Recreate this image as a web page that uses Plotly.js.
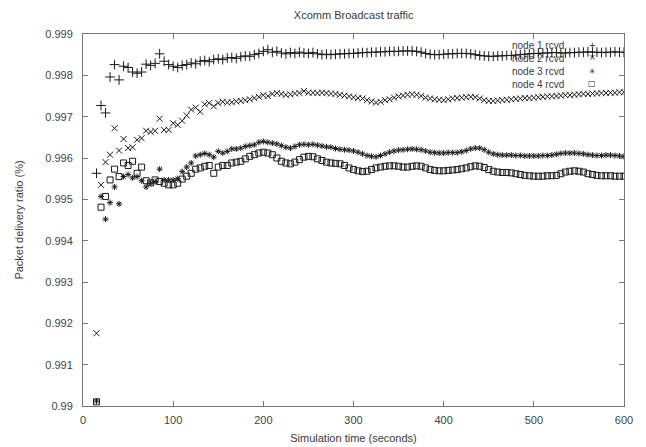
<!DOCTYPE html>
<html>
<head>
<meta charset="utf-8">
<script src="https://cdn.plot.ly/plotly-3.0.1.min.js"></script>
<style>html,body{margin:0;padding:0;background:#fff;}#chart{width:646px;height:447px;}</style>
</head>
<body>
<div id="chart"></div>
<script>
const times = [15,20,25,30,35,40,45,50,55,60,65,70,75,80,85,90,95,100,105,110,115,120,125,130,135,140,145,150,155,160,165,170,175,180,185,190,195,200,205,210,215,220,225,230,235,240,245,250,255,260,265,270,275,280,285,290,295,300,305,310,315,320,325,330,335,340,345,350,355,360,365,370,375,380,385,390,395,400,405,410,415,420,425,430,435,440,445,450,455,460,465,470,475,480,485,490,495,500,505,510,515,520,525,530,535,540,545,550,555,560,565,570,575,580,585,590,595,600];

const node1 = [0.99563,0.99727,0.99709,0.99796,0.99826,0.99789,0.99822,0.99819,0.99808,0.99805,0.99808,0.99827,0.99824,0.99829,0.99852,0.99834,0.99826,0.99822,0.99819,0.99824,0.99826,0.99830,0.99828,0.99834,0.99836,0.99833,0.99838,0.99840,0.99838,0.99842,0.99843,0.99841,0.99845,0.99847,0.99846,0.99850,0.99853,0.99858,0.99862,0.99856,0.99858,0.99854,0.99852,0.99855,0.99853,0.99856,0.99854,0.99853,0.99855,0.99852,0.99850,0.99851,0.99850,0.99851,0.99852,0.99852,0.99853,0.99853,0.99854,0.99855,0.99855,0.99856,0.99856,0.99857,0.99857,0.99858,0.99858,0.99858,0.99859,0.99859,0.99859,0.99858,0.99856,0.99853,0.99851,0.99850,0.99850,0.99851,0.99852,0.99852,0.99853,0.99853,0.99853,0.99852,0.99850,0.99848,0.99847,0.99846,0.99846,0.99847,0.99847,0.99848,0.99848,0.99849,0.99850,0.99851,0.99852,0.99853,0.99853,0.99854,0.99854,0.99855,0.99855,0.99854,0.99854,0.99855,0.99855,0.99856,0.99856,0.99857,0.99856,0.99856,0.99855,0.99856,0.99856,0.99857,0.99856,0.99856];

const node2 = [0.99176,0.99535,0.99590,0.99608,0.99672,0.99618,0.99646,0.99624,0.99626,0.99644,0.99648,0.99666,0.99663,0.99666,0.99695,0.99668,0.99668,0.99684,0.99680,0.99690,0.99703,0.99717,0.99722,0.99712,0.99730,0.99733,0.99725,0.99733,0.99736,0.99734,0.99735,0.99737,0.99738,0.99740,0.99742,0.99745,0.99748,0.99752,0.99750,0.99755,0.99757,0.99755,0.99753,0.99754,0.99756,0.99757,0.99762,0.99758,0.99758,0.99757,0.99758,0.99757,0.99756,0.99755,0.99753,0.99751,0.99749,0.99747,0.99745,0.99744,0.99740,0.99737,0.99734,0.99736,0.99740,0.99742,0.99746,0.99749,0.99751,0.99753,0.99754,0.99753,0.99750,0.99746,0.99744,0.99742,0.99741,0.99740,0.99742,0.99744,0.99745,0.99746,0.99747,0.99748,0.99747,0.99744,0.99740,0.99738,0.99738,0.99739,0.99740,0.99741,0.99742,0.99743,0.99744,0.99745,0.99745,0.99746,0.99747,0.99748,0.99749,0.99749,0.99750,0.99751,0.99752,0.99752,0.99753,0.99754,0.99755,0.99755,0.99756,0.99756,0.99757,0.99757,0.99758,0.99758,0.99759,0.99759];

const node3 = [0.99012,0.99507,0.99452,0.99492,0.99530,0.99489,0.99555,0.99560,0.99552,0.99555,0.99545,0.99530,0.99539,0.99543,0.99573,0.99547,0.99547,0.99547,0.99550,0.99567,0.99578,0.99588,0.99605,0.99608,0.99611,0.99608,0.99602,0.99616,0.99612,0.99616,0.99622,0.99622,0.99624,0.99628,0.99630,0.99632,0.99638,0.99640,0.99638,0.99636,0.99634,0.99630,0.99626,0.99624,0.99628,0.99632,0.99633,0.99632,0.99633,0.99631,0.99629,0.99627,0.99626,0.99623,0.99621,0.99620,0.99619,0.99617,0.99614,0.99610,0.99606,0.99604,0.99603,0.99606,0.99610,0.99614,0.99617,0.99619,0.99620,0.99621,0.99622,0.99621,0.99620,0.99617,0.99614,0.99613,0.99612,0.99612,0.99613,0.99613,0.99613,0.99615,0.99618,0.99622,0.99624,0.99624,0.99620,0.99614,0.99610,0.99608,0.99607,0.99607,0.99607,0.99606,0.99606,0.99605,0.99605,0.99605,0.99605,0.99606,0.99606,0.99607,0.99609,0.99611,0.99612,0.99612,0.99612,0.99611,0.99610,0.99608,0.99607,0.99606,0.99606,0.99607,0.99607,0.99606,0.99605,0.99604];

const node4 = [0.99010,0.99481,0.99507,0.99547,0.99573,0.99555,0.99588,0.99582,0.99592,0.99563,0.99578,0.99545,0.99540,0.99547,0.99543,0.99539,0.99535,0.99535,0.99539,0.99549,0.99556,0.99563,0.99573,0.99576,0.99580,0.99582,0.99563,0.99578,0.99582,0.99582,0.99588,0.99590,0.99592,0.99598,0.99604,0.99608,0.99612,0.99614,0.99612,0.99608,0.99600,0.99592,0.99588,0.99586,0.99590,0.99596,0.99602,0.99604,0.99603,0.99598,0.99594,0.99590,0.99588,0.99587,0.99586,0.99582,0.99576,0.99572,0.99569,0.99567,0.99568,0.99572,0.99576,0.99578,0.99580,0.99581,0.99581,0.99580,0.99578,0.99578,0.99580,0.99581,0.99580,0.99576,0.99572,0.99570,0.99569,0.99569,0.99570,0.99571,0.99572,0.99574,0.99576,0.99579,0.99581,0.99580,0.99577,0.99572,0.99568,0.99566,0.99565,0.99565,0.99564,0.99562,0.99560,0.99558,0.99557,0.99556,0.99556,0.99556,0.99557,0.99557,0.99558,0.99562,0.99566,0.99568,0.99569,0.99568,0.99566,0.99562,0.99560,0.99558,0.99557,0.99557,0.99557,0.99556,0.99556,0.99556];

const seriesNames = ["node 1 rcvd","node 2 rcvd","node 3 rcvd","node 4 rcvd"];
const legendGlyphs = ["+","×","✳","□"];
const yTickVals = [0.99,0.991,0.992,0.993,0.994,0.995,0.996,0.997,0.998,0.999];
const yTickText = ["0.99","0.991","0.992","0.993","0.994","0.995","0.996","0.997","0.998","0.999"];
const xTickVals = [0,100,200,300,400,500,600];

const ink = '#1a1a1a';
const textCol = '#3a3a3a';
const font = "Liberation Sans, Arial, sans-serif";

function tr(y, name, symbol, size) {
  return {
    x: times, y: y, name: name, type: 'scatter', mode: 'markers',
    marker: {symbol: symbol, size: size, color: ink, line: {color: ink, width: 1}},
    showlegend: false, hoverinfo: 'x+y'
  };
}

const data = [
  tr(node1, seriesNames[0], 'cross-thin', 7),
  tr(node2, seriesNames[1], 'x-thin', 6),
  tr(node3, seriesNames[2], 'asterisk', 5),
  tr(node4, seriesNames[3], 'square-open', 6)
];

// gnuplot-style key: right-aligned labels, sample symbol to the right
const keyRows = [0.9704, 0.9355, 0.9005, 0.8656];
const annotations = [
  {xref:'paper', yref:'paper', x:0.893, y:0.989, xanchor:'right', yanchor:'top', align:'right',
   text:seriesNames.join('<br>'), showarrow:false, font:{family:font, size:10, color:textCol}}
];
legendGlyphs.forEach((g, i) => {
  annotations.push({xref:'paper', yref:'paper', x:0.941, y:keyRows[i], xanchor:'center', yanchor:'middle',
    text:g, showarrow:false, font:{family:"DejaVu Sans", size:8, color:ink}});
});

const axisCommon = {
  showgrid:false, zeroline:false, showline:true, linecolor:'#777', linewidth:1,
  mirror:'ticks', ticks:'inside', ticklen:5, tickwidth:1, tickcolor:'#777',
  tickfont:{family:font, size:11, color:'#444'}
};

const layout = {
  width:646, height:447,
  margin:{l:83, r:22, t:34, b:41},
  paper_bgcolor:'#fff', plot_bgcolor:'#fff',
  title:{text:'Xcomm Broadcast traffic', x:0.5475, xanchor:'center', y:0.966, yanchor:'middle',
    font:{family:font, size:11, color:textCol}},
  xaxis: Object.assign({}, axisCommon, {
    range:[0,600], tickmode:'array', tickvals:xTickVals, ticklabelstandoff:4,
    title:{text:'Simulation time (seconds)', standoff:9, font:{family:font, size:11, color:textCol}}
  }),
  yaxis: Object.assign({}, axisCommon, {
    range:[0.99,0.999], tickmode:'array', tickvals:yTickVals, ticktext:yTickText, ticklabelstandoff:7,
    title:{text:'Packet delivery ratio (%)', standoff:19, font:{family:font, size:11, color:textCol}}
  }),
  annotations: annotations,
  showlegend:false
};

Plotly.newPlot('chart', data, layout, {displayModeBar:false, staticPlot:true});
</script>
</body>
</html>
